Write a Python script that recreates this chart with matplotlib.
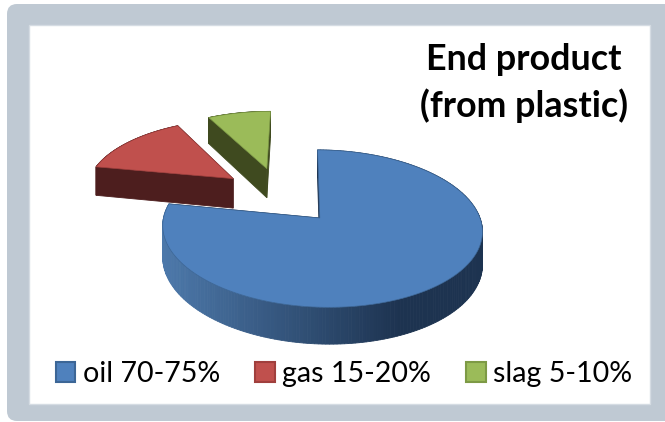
import matplotlib
matplotlib.use('Agg')
import matplotlib.pyplot as plt
import numpy as np
from matplotlib.patches import FancyBboxPatch, Patch, Rectangle

plt.rcParams['font.family'] = ['Lato', 'DejaVu Sans']

labels = ['oil 70-75%', 'gas 15-20%', 'slag 5-10%']
shares = [77.7, 14.4, 7.9]
top_colors = ['#4f81bd', '#c0504d', '#9bbb59']
side_colors = ['#1d3350', '#4d1e1e', '#3f4a1f']
edge_colors = ['#3c6696', '#a03f3d', '#7d9a45']

title = 'End product\n(from plastic)'

start_angle = 89
explode = 0.40
depth = 30.5

# perspective of the pie, everything is in pixels of the picture
cx, cy = 280, 195
rx, ry = 151, 71
kx, ky = -0.012, 0.1287


def project(x, y, down=0.0):
    s = 1 / (1 + ky * y + kx * x)
    return cx + rx * x * s, cy - ry * y * s + down * s


def slice_outline(a1, a2, explode):
    mid = np.radians((a1 + a2) / 2)
    ox, oy = explode * np.cos(mid), explode * np.sin(mid)
    t = np.radians(np.linspace(a1, a2, 240))
    x = ox + np.cos(t)
    y = oy + np.sin(t)
    return ox, oy, x, y


fig = plt.figure(figsize=(6.65, 4.22), dpi=100)
ax = fig.add_axes([0, 0, 1, 1])
ax.set_xlim(0, 665)
ax.set_ylim(422, 0)
ax.axis('off')

# frame round the chart
ax.add_patch(FancyBboxPatch((7, 4), 700, 417, boxstyle='round,pad=0,rounding_size=10',
                            fc='#bfc9d3', ec='none', zorder=0))
ax.add_patch(Rectangle((29, 25), 621, 379, fc='white', ec='#d5dce3', lw=1, zorder=1))

# slice angles, clockwise from the top
ends = start_angle - np.cumsum(shares) * 3.6
starts = np.r_[start_angle, ends[:-1]]

# oil, then slag, then gas which sits in front of the oil
for i, z in zip([0, 2, 1], [2, 3, 4]):
    ox, oy, x, y = slice_outline(ends[i], starts[i], explode)
    ring_x = np.r_[ox, x, ox]
    ring_y = np.r_[oy, y, oy]

    # walls
    for j in range(len(ring_x) - 1):
        x1, y1 = project(ring_x[j], ring_y[j])
        x2, y2 = project(ring_x[j + 1], ring_y[j + 1])
        x3, y3 = project(ring_x[j + 1], ring_y[j + 1], depth)
        x4, y4 = project(ring_x[j], ring_y[j], depth)
        c = side_colors[i]
        if i == 0 and 0 < j < len(ring_x) - 2:
            # the round side of the oil slice gets darker to the right
            f = np.clip(((x1 + x2) / 2 - 165) / (400 - 165), 0, 1)
            c = np.array([76, 120, 170]) * (1 - f) + np.array([29, 51, 80]) * f
            c = c / 255
        ax.fill([x1, x2, x3, x4], [y1, y2, y3, y4], color=c, lw=0.6, zorder=z)

    # top
    px, py = project(ring_x, ring_y)
    ax.fill(px, py, fc=top_colors[i], ec=edge_colors[i], lw=0.5, zorder=z + 0.5)

ax.text(524, 83, title, ha='center', va='center', fontsize=25.8, fontweight='bold',
        color='black', linespacing=1.45, zorder=6)

handles = [Patch(fc=c, ec=e, lw=1.5) for c, e in zip(top_colors, edge_colors)]
ax.legend(handles, labels, ncol=3, loc='center', bbox_to_anchor=(344 / 665, 1 - 374 / 422),
          frameon=False, fontsize=20.6, handlelength=0.68, handleheight=0.68,
          handletextpad=0.25, columnspacing=1.24, borderpad=0, borderaxespad=0)

fig.savefig('out.png', dpi=100)
